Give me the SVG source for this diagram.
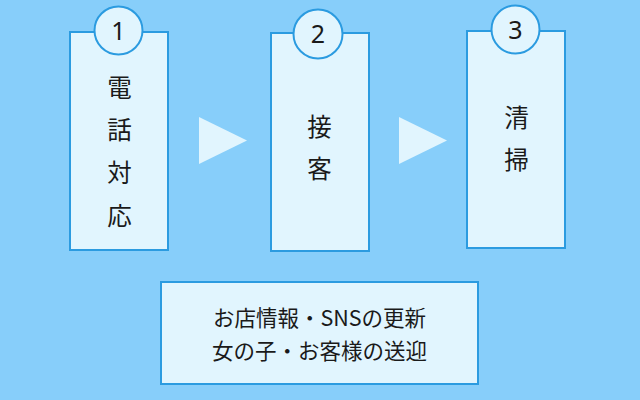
<svg xmlns="http://www.w3.org/2000/svg" width="640" height="400" viewBox="0 0 640 400">
<style>
.box{fill:#e1f5fe;stroke:#2b9be0;stroke-width:2}
.t{font-family:"Noto Sans CJK JP","Noto Sans",sans-serif;fill:#1a1a1a;text-anchor:middle}
.big{font-size:24.5px}
.num{font-family:"Noto Sans","Noto Sans CJK JP",sans-serif;font-size:25px;fill:#1a1a1a;text-anchor:middle}
.sm{font-size:21.5px}
.arr{fill:#e1f5fe}
</style>
<rect width="640" height="400" fill="#87cefa"/>
<g id="connectors">
<polygon class="arr" points="199,117 247,140.5 199,164"/>
<polygon class="arr" points="399,117 447,140.5 399,164"/>
</g>
<g id="step1">
<rect class="box" x="70" y="32" width="98" height="218"/>
<circle class="box" cx="118.5" cy="30.5" r="24"/>
<text class="num" x="118.5" y="39.5">1</text>
<text class="t big" x="119.5" y="96.5">電</text>
<text class="t big" x="119.5" y="139">話</text>
<text class="t big" x="119.5" y="182">対</text>
<text class="t big" x="119.5" y="224.5">応</text>
</g>
<g id="step2">
<rect class="box" x="271" y="33" width="98" height="218"/>
<circle class="box" cx="318" cy="34" r="24.5"/>
<text class="num" x="318" y="43">2</text>
<text class="t big" x="319.5" y="136">接</text>
<text class="t big" x="319.5" y="178">客</text>
</g>
<g id="step3">
<rect class="box" x="467" y="31" width="98" height="217"/>
<circle class="box" cx="515.5" cy="29.5" r="24"/>
<text class="num" x="515.5" y="38.5">3</text>
<text class="t big" x="516.5" y="127">清</text>
<text class="t big" x="516.5" y="169">掃</text>
</g>
<g id="tasks">
<rect class="box" x="161" y="282" width="317" height="102"/>
<text class="t sm" x="319.5" y="326">お店情報・SNSの更新</text>
<text class="t sm" x="319.5" y="359">女の子・お客様の送迎</text>
</g>
</svg>
